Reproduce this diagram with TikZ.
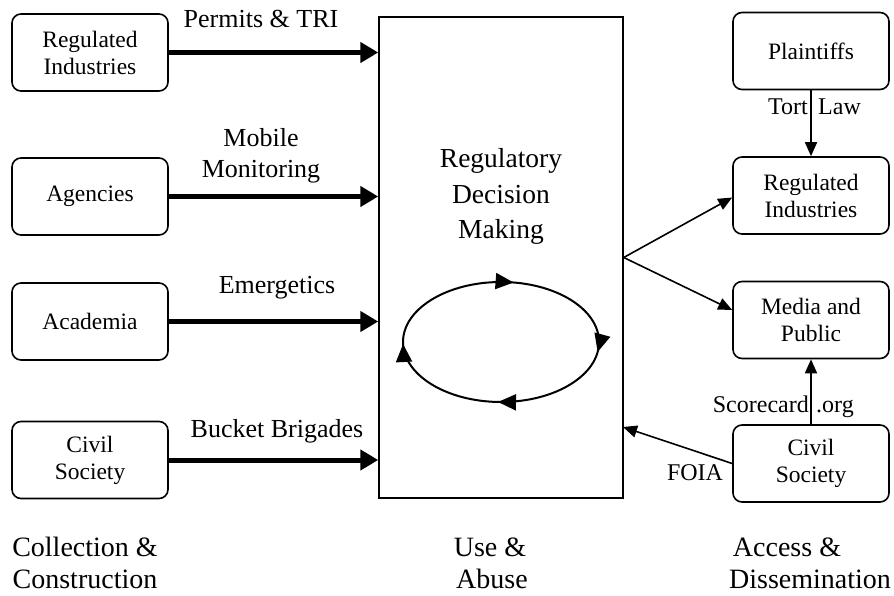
\documentclass[tikz,border=0pt]{standalone}
\usepackage{fontspec}
\setmainfont{Liberation Serif}
\usetikzlibrary{arrows.meta,decorations.markings}
\tikzset{cyctip/.tip={Triangle[length=18pt,width=16pt]}}
\begin{document}
\begin{tikzpicture}[x=1pt,y=-1pt,
  actor/.style={draw, line width=1.6pt, rounded corners=9pt, minimum width=156pt,
    minimum height=77pt, align=center, inner sep=0pt, font=\fontsize{23.5}{27}\selectfont},
  feed/.style={line width=5pt, -{Triangle[length=18pt,width=20pt]}},
  link/.style={line width=1.6pt, -{Triangle[length=14pt,width=12pt]}},
  flowlbl/.style={anchor=base, inner sep=0pt, font=\fontsize{26}{30}\selectfont},
  sidelbl/.style={anchor=base, inner sep=0pt, font=\fontsize{24}{28}\selectfont},
  heading/.style={anchor=base, inner sep=0pt, font=\fontsize{28}{33}\selectfont},
  coretxt/.style={anchor=base, inner sep=0pt, font=\fontsize{27.5}{34}\selectfont},
]
\useasboundingbox (0,0) rectangle (894,596);

% central decision box
\node[draw, line width=1.5pt, minimum width=244pt, minimum height=481pt, inner sep=0pt]
  (dm) at (501,257.5) {};
\node[coretxt] (dm1) at (501,168) {Regulatory};
\node[coretxt] (dm2) at (501,204) {Decision};
\node[coretxt] (dm3) at (501,238) {Making};

% decision cycle
\draw[line width=2pt, postaction={decorate}, decoration={markings,
    mark=at position 0.225 with {\arrowreversed{cyctip}},
    mark=at position 0.504 with {\arrowreversed{cyctip}},
    mark=at position 0.744 with {\arrowreversed{cyctip}},
    mark=at position 0.98 with {\arrowreversed{cyctip}}}]
  (501,342) ellipse [x radius=98pt, y radius=60pt];

% collection side
\node[actor] (ri) at (90,52.5) {Regulated\\Industries};
\node[actor] (ag) at (90,196.5) {Agencies};
\node[actor] (ac) at (90,321.5) {Academia};
\node[actor] (cs) at (90,460) {Civil\\Society};

\draw[feed] (ri.east) -- (ri.east -| dm.west);
\draw[feed] (ag.east) -- (ag.east -| dm.west);
\draw[feed] (ac.east) -- (ac.east -| dm.west);
\draw[feed] (cs.east) -- (cs.east -| dm.west);

\node[flowlbl] (l1) at (261,28) {Permits \& TRI};
\node[flowlbl] (l2a) at (261,147) {Mobile};
\node[flowlbl] (l2b) at (261,178) {Monitoring};
\node[flowlbl] (l3) at (277,293) {Emergetics};
\node[flowlbl] (l4) at (277,437) {Bucket Brigades};

% dissemination side
\node[actor] (pl) at (811,51) {Plaintiffs};
\node[actor] (ri2) at (811,195.5) {Regulated\\Industries};
\node[actor] (mp) at (811,320) {Media and\\Public};
\node[actor] (cs2) at (811,463.5) {Civil\\Society};
\coordinate (foia) at (623,427);

\draw[link] (pl.south) -- (ri2.north);
\draw[link] (dm.east) -- ([yshift=-2pt]ri2.west);
\draw[link] (dm.east) -- ([yshift=10pt]mp.west);
\draw[link] (cs2.north) -- (mp.south);
\draw[link] (cs2.west) -- (foia);

\node[sidelbl, anchor=base east] (t1) at (808,115) {Tort};
\node[sidelbl, anchor=base west] (t2) at (818,115) {Law};
\node[sidelbl, anchor=base east] (s1) at (809,412) {Scorecard};
\node[sidelbl, anchor=base west] (s2) at (816,412) {.org};
\node[sidelbl] (fo) at (695,480) {FOIA};

% stage headings
\node[heading] (h1a) at (85,556) {Collection \&};
\node[heading] (h1b) at (85,588) {Construction};
\node[heading] (h2a) at (490,556) {Use \&};
\node[heading] (h2b) at (492,588) {Abuse};
\node[heading] (h3a) at (787,556) {Access \&};
\node[heading] (h3b) at (810,588) {Dissemination};
\end{tikzpicture}
\end{document}
